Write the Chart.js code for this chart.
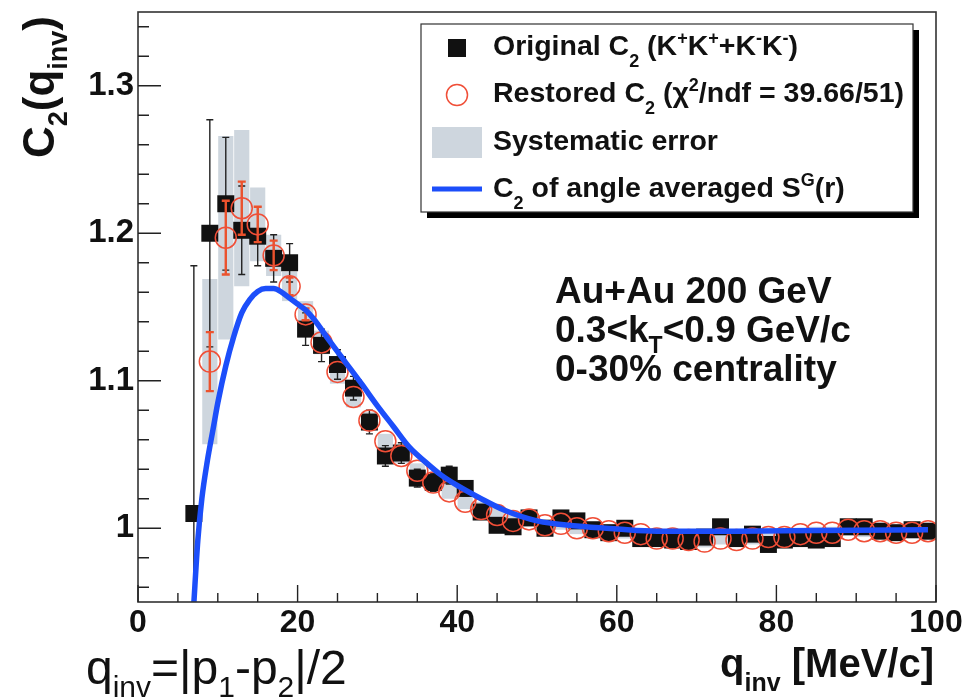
<!DOCTYPE html>
<html><head><meta charset="utf-8">
<script src="https://cdn.jsdelivr.net/npm/chart.js@4.4.1/dist/chart.umd.min.js"></script>
<style>html,body{margin:0;padding:0;background:#fff}#wrap{width:965px;height:699px;position:relative}</style>
</head><body><div id="wrap"><canvas id="c"></canvas></div>
<script>
// ---- data ----
const qOrig = [7,9,11,13,15,17,19,21,23,25,27,29,31,33,35,37,39,41,43,45,47,49,51,53,55,57,59,61,63,65,67,69,71,73,75,77,79,81,83,85,87,89,91,93,95,97,99];
const c2Orig = [1.010,1.200,1.220,1.202,1.198,1.183,1.180,1.135,1.124,1.111,1.095,1.072,1.049,1.051,1.034,1.031,1.036,1.027,1.011,1.002,1.001,1.007,1.000,1.007,1.005,0.999,0.997,1.000,0.993,0.993,0.992,0.991,0.994,1.001,0.993,0.996,0.989,0.992,0.993,0.992,0.993,1.001,1.001,0.998,0.997,0.999,0.998];
const errOrig = [0.168,0.077,0.045,0.030,0.020,0.016,0.013,0.011,0.011,0.010,0.008,0.008,0.007,0.007,0.006,0.006,0.006,0.005,0.005,0.004,0.004,0.004,0.004,0.004,0.004,0.003,0.003,0.003,0.003,0.003,0.003,0.003,0.003,0.003,0.003,0.003,0.003,0.003,0.003,0.003,0.003,0.003,0.003,0.003,0.003,0.003,0.003];

const qRest = [9,11,13,15,17,19,21,23,25,27,29,31,33,35,37,39,41,43,45,47,49,51,53,55,57,59,61,63,65,67,69,71,73,75,77,79,81,83,85,87,89,91,93,95,97,99];
const c2Rest = [1.113,1.197,1.217,1.206,1.185,1.164,1.145,1.126,1.106,1.089,1.073,1.059,1.049,1.039,1.031,1.025,1.018,1.013,1.009,1.005,1.006,1.002,1.003,1.000,1.000,0.998,0.997,0.996,0.993,0.993,0.992,0.991,0.993,0.992,0.993,0.994,0.994,0.996,0.997,0.997,0.999,0.998,0.998,0.997,0.997,0.998];
const errRest = [0.020,0.025,0.018,0.012,0.010,0.006,0.004,0,0,0,0,0,0,0,0,0,0,0,0,0,0,0,0,0,0,0,0,0,0,0,0,0,0,0,0,0,0,0,0,0,0,0,0,0,0,0];
const sysRest = [0.056,0.069,0.053,0.025,0.014,0.010,0.009,0.008,0.008,0.007,0.006,0.005,0.005,0.005,0.005,0.005,0.005,0.005,0.005,0.004,0.004,0.004,0.004,0.004,0.004,0.004,0.004,0.004,0.004,0.004,0.004,0.004,0.004,0.004,0.004,0.004,0.004,0.004,0.004,0.004,0.004,0.004,0.004,0.004,0.004,0.004];

const qModel = [6.95,7.5,8,8.7,9.4,10,11,12,13,14,15,16,17,18,19,20,21,22,24,26,28,30,32,34,36,38,40,43,46,50,55,60,65,75,85,99];
const c2Model = [0.945,0.992,1.020,1.046,1.067,1.085,1.110,1.130,1.146,1.155,1.1605,1.1625,1.1625,1.160,1.156,1.152,1.148,1.142,1.127,1.1125,1.098,1.083,1.069,1.055,1.045,1.036,1.029,1.020,1.012,1.005,1.0015,0.9995,0.998,0.998,0.9985,0.999];

const xTickValues = [0,20,40,60,80,100];
const xTickLabels = ['0','20','40','60','80','100'];
const yTickValues = [1.0,1.1,1.2,1.3];
const yTickLabels = ['1','1.1','1.2','1.3'];

// ---- styling ----
const FAM = '"Liberation Sans", Arial, Helvetica, sans-serif';
const INK = '#111';
const RED = 'rgb(240,78,55)';
const RED_ERR = 'rgb(236,82,45)';
const BAND = 'rgb(206,214,222)';
const BLUE = 'rgb(28,78,250)';

function drawRich(ctx, x, y, parts, size, weight, align, subOff, supOff, scl) {
  subOff = subOff == null ? 0.32 : subOff;
  supOff = supOff == null ? 0.42 : supOff;
  scl = scl || 0.62;
  const fontFor = k => `${weight} ${k === 'n' ? size : Math.round(size * scl)}px ${FAM}`;
  let total = 0;
  for (const [t, k] of parts) { ctx.font = fontFor(k); total += ctx.measureText(t).width; }
  let cx = align === 'right' ? x - total : x;
  ctx.textAlign = 'left';
  ctx.textBaseline = 'alphabetic';
  for (const [t, k] of parts) {
    ctx.font = fontFor(k);
    const dy = k === 'b' ? size * subOff : (k === 'p' ? -size * supOff : 0);
    ctx.fillText(t, cx, y + dy);
    cx += ctx.measureText(t).width;
  }
}

const errPlugin = {
  id: 'errbars',
  afterDatasetDraw(chart, args) {
    let qs, vs, es, color, lw, cap;
    if (args.index === 0) { qs = qOrig; vs = c2Orig; es = errOrig; color = '#222'; lw = 1.4; cap = 3.5; }
    else if (args.index === 1) { qs = qRest; vs = c2Rest; es = errRest; color = RED_ERR; lw = 2.4; cap = 4; }
    else return;
    const { ctx, chartArea: a, scales: { x, y } } = chart;
    ctx.save();
    ctx.beginPath(); ctx.rect(a.left, a.top, a.right - a.left, a.bottom - a.top); ctx.clip();
    ctx.strokeStyle = color; ctx.lineWidth = lw;
    for (let i = 0; i < qs.length; i++) {
      if (!es[i]) continue;
      const px = x.getPixelForValue(qs[i]);
      const y1 = y.getPixelForValue(vs[i] + es[i]);
      const y2 = y.getPixelForValue(vs[i] - es[i]);
      ctx.beginPath();
      ctx.moveTo(px, y1); ctx.lineTo(px, y2);
      ctx.moveTo(px - cap, y1); ctx.lineTo(px + cap, y1);
      ctx.moveTo(px - cap, y2); ctx.lineTo(px + cap, y2);
      ctx.stroke();
    }
    ctx.restore();
  }
};

const decoPlugin = {
  id: 'deco',
  afterDraw(chart) {
    const { ctx, chartArea: a, scales: { x, y } } = chart;
    ctx.save();
    // frame
    ctx.strokeStyle = '#333'; ctx.lineWidth = 1.6;
    ctx.strokeRect(a.left, a.top, a.right - a.left, a.bottom - a.top);
    // inward ticks
    ctx.lineWidth = 1.4; ctx.strokeStyle = '#222';
    ctx.beginPath();
    for (let v = 0; v <= 100; v += 5) {
      const px = x.getPixelForValue(v);
      const len = v % 20 === 0 ? 17 : 9;
      ctx.moveTo(px, a.bottom); ctx.lineTo(px, a.bottom - len);
    }
    for (let k = 48; k <= 67; k++) {
      const py = y.getPixelForValue(k * 0.02);
      const len = k % 5 === 0 ? 23 : 11;
      ctx.moveTo(a.left, py); ctx.lineTo(a.left + len, py);
    }
    ctx.stroke();

    ctx.fillStyle = INK;
    // y title (rotated)
    ctx.save();
    ctx.translate(54, 158);
    ctx.rotate(-Math.PI / 2);
    drawRich(ctx, 0, 0, [['C', 'n'], ['2', 'b'], ['(q', 'n'], ['inv', 'b'], [')', 'n']], 44, 'bold', 'left', 0.3);
    ctx.restore();
    // x title
    drawRich(ctx, 934, 677, [['q', 'n'], ['inv', 'b'], [' [MeV/c]', 'n']], 40, 'bold', 'right', 0.35);
    // formula bottom-left
    drawRich(ctx, 86, 684, [['q', 'n'], ['inv', 'b'], ['=|p', 'n'], ['1', 'b'], ['-p', 'n'], ['2', 'b'], ['|/2', 'n']], 48, 'normal', 'left', 0.28, 0.4, 0.62);

    // annotation
    drawRich(ctx, 555, 303, [['Au+Au 200 GeV', 'n']], 37, 'bold', 'left');
    drawRich(ctx, 555, 342, [['0.3<k', 'n'], ['T', 'b'], ['<0.9 GeV/c', 'n']], 37, 'bold', 'left', 0.3);
    drawRich(ctx, 555, 381, [['0-30% centrality', 'n']], 37, 'bold', 'left');

    // legend box with shadow
    const L = 421, T = 24, R = 913, B = 212;
    ctx.fillStyle = '#000';
    ctx.fillRect(L + 6, T + 6, R - L, B - T);
    ctx.fillStyle = '#fff';
    ctx.fillRect(L, T, R - L, B - T);
    ctx.strokeStyle = '#333'; ctx.lineWidth = 1.2;
    ctx.strokeRect(L, T, R - L, B - T);
    // symbols
    ctx.fillStyle = INK;
    ctx.fillRect(457 - 9, 48 - 9, 18, 18);
    ctx.strokeStyle = RED; ctx.lineWidth = 1.5;
    ctx.beginPath(); ctx.arc(457, 95, 10.5, 0, Math.PI * 2); ctx.stroke();
    ctx.fillStyle = BAND;
    ctx.fillRect(432, 127, 50, 31);
    ctx.strokeStyle = BLUE; ctx.lineWidth = 5;
    ctx.beginPath(); ctx.moveTo(432, 189); ctx.lineTo(482, 189); ctx.stroke();
    // legend texts
    ctx.fillStyle = INK;
    const LF = 28.5;
    drawRich(ctx, 493, 55, [['Original C', 'n'], ['2', 'b'], [' (K', 'n'], ['+', 'p'], ['K', 'n'], ['+', 'p'], ['+K', 'n'], ['-', 'p'], ['K', 'n'], ['-', 'p'], [')', 'n']], LF, 'bold', 'left', 0.42, 0.4);
    drawRich(ctx, 493, 102, [['Restored C', 'n'], ['2', 'b'], [' (\u03C7', 'n'], ['2', 'p'], ['/ndf = 39.66/51)', 'n']], LF, 'bold', 'left', 0.42, 0.4);
    drawRich(ctx, 493, 150, [['Systematic error', 'n']], LF, 'bold', 'left');
    drawRich(ctx, 493, 197, [['C', 'n'], ['2', 'b'], [' of angle averaged S', 'n'], ['G', 'p'], ['(r)', 'n']], LF, 'bold', 'left', 0.42, 0.4);
    ctx.restore();
  }
};

const bandData = qRest.map((q, i) => ({ x: q, y: [c2Rest[i] - sysRest[i], c2Rest[i] + sysRest[i]] }));
const origData = qOrig.map((q, i) => ({ x: q, y: c2Orig[i] }));
const restData = qRest.map((q, i) => ({ x: q, y: c2Rest[i] }));
const modelData = qModel.map((q, i) => ({ x: q, y: c2Model[i] }));

new Chart(document.getElementById('c'), {
  type: 'scatter',
  data: {
    datasets: [
      { type: 'bar', label: 'Systematic error', data: bandData, backgroundColor: BAND, borderWidth: 0,
        barPercentage: 1.0, categoryPercentage: 0.95, order: 5 },
      { type: 'scatter', label: 'Original C2', data: origData, pointStyle: 'rect', pointRadius: 12,
        backgroundColor: INK, borderColor: INK, borderWidth: 0, order: 4 },
      { type: 'scatter', label: 'Restored C2', data: restData, pointStyle: 'circle', pointRadius: 10.5,
        backgroundColor: 'rgba(0,0,0,0)', borderColor: RED, borderWidth: 1.5, order: 3 },
      { type: 'line', label: 'C2 of angle averaged SG(r)', data: modelData, borderColor: BLUE, borderWidth: 5.5,
        pointRadius: 0, fill: false, cubicInterpolationMode: 'monotone', order: 1 }
    ]
  },
  options: {
    responsive: true,
    maintainAspectRatio: false,
    animation: false,
    events: [],
    devicePixelRatio: 1,
    layout: { padding: { left: 0, top: 5, right: 29, bottom: 0 } },
    plugins: { legend: { display: false }, tooltip: { enabled: false } },
    scales: {
      x: {
        type: 'linear', min: 0, max: 100, offset: false,
        grid: { display: false, drawTicks: false },
        border: { display: false },
        afterBuildTicks: s => { s.ticks = xTickValues.map(v => ({ value: v })); },
        afterFit: s => { s.height = 97; s.paddingLeft = 0; s.paddingRight = 0; },
        ticks: { autoSkip: false, maxRotation: 0, padding: 2, color: INK,
          font: { family: FAM, size: 32, weight: 'bold' },
          callback: (v, i) => xTickLabels[i] }
      },
      y: {
        type: 'linear', min: 0.95, max: 1.35,
        grid: { display: false, drawTicks: false },
        border: { display: false },
        afterBuildTicks: s => { s.ticks = yTickValues.map(v => ({ value: v })); },
        afterFit: s => { s.width = 138; s.paddingTop = 0; s.paddingBottom = 0; },
        ticks: { autoSkip: false, padding: 4, color: INK,
          font: { family: FAM, size: 33, weight: 'bold' },
          callback: (v, i) => yTickLabels[i] }
      }
    }
  },
  plugins: [errPlugin, decoPlugin]
});
</script></body></html>
